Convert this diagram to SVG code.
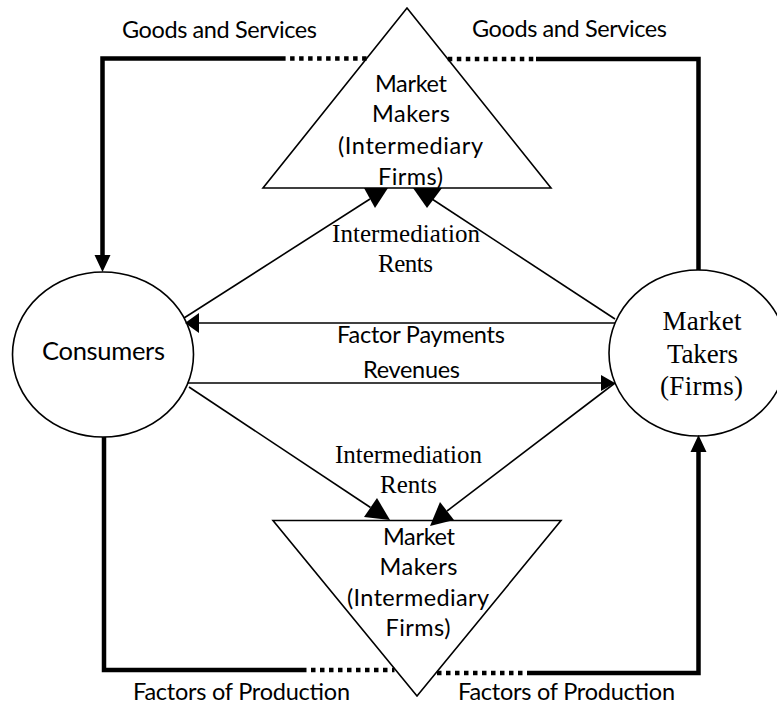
<svg xmlns="http://www.w3.org/2000/svg" width="777" height="708" viewBox="0 0 777 708">
  <style>
    .sans { font-family: Lato, "Liberation Sans", Arial, sans-serif; font-size: 23.5px; fill: #000; text-anchor: middle; }
    .serif { font-family: "Liberation Serif", "Times New Roman", serif; font-size: 25px; fill: #000; text-anchor: middle; }
    .big { font-size: 25.5px; }
    .takers { font-size: 27px; }
    .node { fill: #fff; stroke: #000; stroke-width: 1.6; }
    .thick { fill: none; stroke: #000; stroke-width: 4.5; stroke-linejoin: miter; stroke-linecap: butt; }
    .dotted { fill: none; stroke: #000; stroke-width: 4.5; stroke-dasharray: 4.5 4.5; }
    .thin { fill: none; stroke: #000; stroke-width: 1.6; }
    .head { fill: #000; stroke: none; }
  </style>

  <rect width="777" height="708" fill="#fff"/>

  <!-- Consumers -->
  <g id="consumers">
    <ellipse class="node" cx="103" cy="354.5" rx="90.5" ry="82.5"/>
    <text class="sans big" x="103.5" y="360" textLength="123">Consumers</text>
  </g>

  <!-- Market takers (firms) -->
  <g id="market-takers">
    <ellipse class="node" cx="698" cy="353" rx="89" ry="83"/>
    <text class="serif takers" x="702" y="330" textLength="79">Market</text>
    <text class="serif takers" x="702.5" y="363" textLength="71">Takers</text>
    <text class="serif takers" x="701.5" y="395" textLength="83">(Firms)</text>
  </g>

  <!-- Market makers, upper -->
  <g id="market-makers-top">
    <polygon class="node" points="407,8 551,188 263,188"/>
    <text class="sans" x="411" y="92" textLength="72">Market</text>
    <text class="sans" x="411" y="122" textLength="78">Makers</text>
    <text class="sans" x="410.5" y="154" textLength="145">(Intermediary</text>
    <text class="sans" x="410.5" y="185" textLength="65">Firms)</text>
  </g>

  <!-- Market makers, lower -->
  <g id="market-makers-bottom">
    <polygon class="node" points="273,520.5 561,520.5 417,696"/>
    <text class="sans" x="419" y="545" textLength="72">Market</text>
    <text class="sans" x="418.5" y="575" textLength="78">Makers</text>
    <text class="sans" x="418" y="606" textLength="142">(Intermediary</text>
    <text class="sans" x="418" y="636" textLength="65">Firms)</text>
  </g>

  <!-- Connectors -->
  <g id="connectors">
    <!-- goods and services, left loop -->
    <path class="dotted" d="M366.6,58.5 H283"/>
    <path class="thick" d="M283,58.5 H102.5 V255"/>
    <polygon class="head" points="94.5,255 110.5,255 102.5,272"/>

    <!-- goods and services, right loop -->
    <path class="dotted" d="M447.8,59 H536"/>
    <path class="thick" d="M536,59 H698.5 V270"/>

    <!-- factors of production, left loop -->
    <path class="thick" d="M104,437 V670 H302"/>
    <path class="dotted" d="M302,670 H394.5"/>

    <!-- factors of production, right loop -->
    <path class="dotted" d="M437,673 H527"/>
    <path class="thick" d="M527,673 H698.5 V452"/>
    <polygon class="head" points="690.5,452 706.5,452 698.5,435"/>

    <!-- factor payments -->
    <path class="thin" d="M615,323 H198"/>
    <polygon class="head" points="199,313 199,333 185,323"/>

    <!-- revenues -->
    <path class="thin" d="M188,383 H601"/>
    <polygon class="head" points="601,375 601,391 615,383"/>

    <!-- intermediation rents, upper -->
    <path class="thin" d="M184,318 L370,199"/>
    <polygon class="head" points="364,188 388,188 375,208"/>
    <path class="thin" d="M615,319 L432,199"/>
    <polygon class="head" points="413,188 442,188 427,208"/>

    <!-- intermediation rents, lower -->
    <path class="thin" d="M189,387 L370.5,507.5"/>
    <polygon class="head" points="364,517 377,498 390,520"/>
    <path class="thin" d="M615,383 L447,511"/>
    <polygon class="head" points="430,526 440,502 454,520"/>
  </g>

  <!-- Flow labels -->
  <g id="labels">
    <text class="sans" x="219.5" y="38" textLength="195">Goods and Services</text>
    <text class="sans" x="569.5" y="37" textLength="195">Goods and Services</text>
    <text class="sans" x="421" y="343" textLength="168">Factor Payments</text>
    <text class="sans" x="411.5" y="378" textLength="97">Revenues</text>
    <text class="serif" x="406" y="242" textLength="148">Intermediation</text>
    <text class="serif" x="405.5" y="272" textLength="55">Rents</text>
    <text class="serif" x="408.5" y="463" textLength="147">Intermediation</text>
    <text class="serif" x="408.5" y="493" textLength="57">Rents</text>
    <text class="sans" x="241.5" y="700" textLength="217">Factors of Production</text>
    <text class="sans" x="566.5" y="700" textLength="217">Factors of Production</text>
  </g>
</svg>
